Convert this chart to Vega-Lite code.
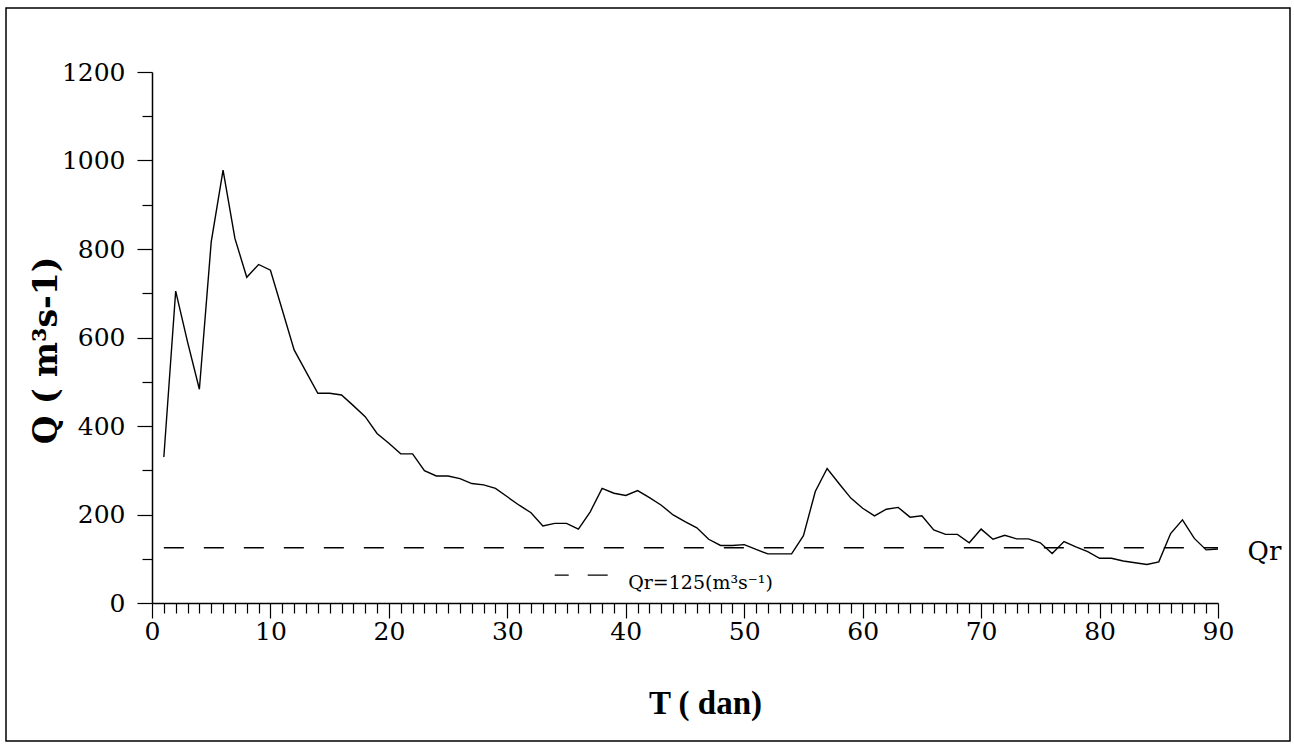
{
  "$schema": "https://vega.github.io/schema/vega-lite/v6.json",
  "autosize": {"type": "none"},
  "padding": {"left": 6, "top": 8, "right": 4, "bottom": 5},
  "width": 1284,
  "height": 733,
  "background": "white",
  "config": {
    "view": {"stroke": "black", "strokeWidth": 1.5},
    "axis": {"grid": false, "domainColor": "black", "tickColor": "black", "labelColor": "black", "titleColor": "black", "domainWidth": 1.5, "tickWidth": 1.2, "labelFlush": false}
  },
  "datasets": {
    "flow": [
      {"day": 1, "Q": 330}, {"day": 2, "Q": 705}, {"day": 3, "Q": 590}, {"day": 4, "Q": 483}, {"day": 5, "Q": 816},
      {"day": 6, "Q": 978}, {"day": 7, "Q": 824}, {"day": 8, "Q": 736}, {"day": 9, "Q": 765}, {"day": 10, "Q": 752},
      {"day": 11, "Q": 662}, {"day": 12, "Q": 572}, {"day": 13, "Q": 523}, {"day": 14, "Q": 474}, {"day": 15, "Q": 474},
      {"day": 16, "Q": 470}, {"day": 17, "Q": 446}, {"day": 18, "Q": 421}, {"day": 19, "Q": 383}, {"day": 20, "Q": 361},
      {"day": 21, "Q": 337}, {"day": 22, "Q": 337}, {"day": 23, "Q": 299}, {"day": 24, "Q": 287}, {"day": 25, "Q": 287},
      {"day": 26, "Q": 281}, {"day": 27, "Q": 270}, {"day": 28, "Q": 267}, {"day": 29, "Q": 259}, {"day": 30, "Q": 240},
      {"day": 31, "Q": 221}, {"day": 32, "Q": 204}, {"day": 33, "Q": 174}, {"day": 34, "Q": 180}, {"day": 35, "Q": 180},
      {"day": 36, "Q": 167}, {"day": 37, "Q": 206}, {"day": 38, "Q": 259}, {"day": 39, "Q": 248}, {"day": 40, "Q": 243},
      {"day": 41, "Q": 254}, {"day": 42, "Q": 238}, {"day": 43, "Q": 221}, {"day": 44, "Q": 199}, {"day": 45, "Q": 184},
      {"day": 46, "Q": 170}, {"day": 47, "Q": 144}, {"day": 48, "Q": 130}, {"day": 49, "Q": 130}, {"day": 50, "Q": 132},
      {"day": 51, "Q": 121}, {"day": 52, "Q": 111}, {"day": 53, "Q": 111}, {"day": 54, "Q": 111}, {"day": 55, "Q": 152},
      {"day": 56, "Q": 252}, {"day": 57, "Q": 304}, {"day": 58, "Q": 270}, {"day": 59, "Q": 237}, {"day": 60, "Q": 214},
      {"day": 61, "Q": 197}, {"day": 62, "Q": 212}, {"day": 63, "Q": 216}, {"day": 64, "Q": 194}, {"day": 65, "Q": 197},
      {"day": 66, "Q": 165}, {"day": 67, "Q": 155}, {"day": 68, "Q": 155}, {"day": 69, "Q": 136}, {"day": 70, "Q": 167},
      {"day": 71, "Q": 144}, {"day": 72, "Q": 153}, {"day": 73, "Q": 145}, {"day": 74, "Q": 145}, {"day": 75, "Q": 136},
      {"day": 76, "Q": 112}, {"day": 77, "Q": 139}, {"day": 78, "Q": 127}, {"day": 79, "Q": 116}, {"day": 80, "Q": 101},
      {"day": 81, "Q": 101}, {"day": 82, "Q": 95}, {"day": 83, "Q": 91}, {"day": 84, "Q": 87}, {"day": 85, "Q": 93},
      {"day": 86, "Q": 157}, {"day": 87, "Q": 188}, {"day": 88, "Q": 146}, {"day": 89, "Q": 120}, {"day": 90, "Q": 122}
    ],
    "qr": [{"from": 1, "to": 90, "Q": 125}],
    "legendDash": [{"from": 34.0, "to": 38.5, "Q": 63}],
    "legendText": [{"day": 40.2, "Q": 31.6, "label": "Qr=125(m³s⁻¹)"}],
    "qrText": [{"day": 92.5, "Q": 97, "label": "Qr"}]
  },
  "resolve": {"axis": {"x": "independent", "y": "independent"}},
  "layer": [
    {
      "data": {"name": "flow"},
      "mark": {"type": "point", "opacity": 0},
      "encoding": {
        "x": {"field": "day", "type": "quantitative",
              "scale": {"domain": [0, 90], "range": [146, 1212], "nice": false, "zero": false},
              "axis": {"orient": "bottom", "offset": -138, "values": [1,2,3,4,5,6,7,8,9,11,12,13,14,15,16,17,18,19,21,22,23,24,25,26,27,28,29,31,32,33,34,35,36,37,38,39,41,42,43,44,45,46,47,48,49,51,52,53,54,55,56,57,58,59,61,62,63,64,65,66,67,68,69,71,72,73,74,75,76,77,78,79,81,82,83,84,85,86,87,88,89],
                       "labels": false, "domain": false, "tickSize": 10, "title": null}},
        "y": {"field": "Q", "type": "quantitative",
              "scale": {"domain": [0, 1200], "range": [595, 64], "nice": false, "zero": false},
              "axis": {"orient": "left", "offset": -146, "values": [100, 300, 500, 700, 900, 1100],
                       "labels": false, "domain": false, "tickSize": 10, "title": null}}
      }
    },
    {
      "data": {"name": "flow"},
      "mark": {"type": "line", "color": "black", "strokeWidth": 1.4},
      "encoding": {
        "x": {"field": "day", "type": "quantitative",
              "axis": {"orient": "bottom", "offset": -138, "values": [0,10,20,30,40,50,60,70,80,90], "format": "d",
                       "tickSize": 15, "labelFont": "DejaVu Serif", "labelFontSize": 25, "labelPadding": 1, "labelFontWeight": "normal",
                       "title": "T ( dan)", "titleFont": "Liberation Serif", "titleFontSize": 33, "titleFontWeight": "bold",
                       "titleX": 699, "titleY": 110, "titleAlign": "center", "titleBaseline": "alphabetic"}},
        "y": {"field": "Q", "type": "quantitative",
              "axis": {"orient": "left", "offset": -146, "values": [0,200,400,600,800,1000,1200], "format": "d",
                       "tickSize": 15, "labelFont": "DejaVu Serif", "labelFontSize": 25, "labelPadding": 12, "labelFontWeight": "normal",
                       "title": "Q ( m³s-1)", "titleFont": "DejaVu Serif", "titleFontSize": 33, "titleFontWeight": "bold",
                       "titleX": -96, "titleY": 342, "titleAlign": "center", "titleBaseline": "alphabetic", "titleAngle": -90}}
      }
    },
    {
      "data": {"name": "qr"},
      "mark": {"type": "rule", "color": "black", "strokeWidth": 1.4, "strokeDash": [20, 20]},
      "encoding": {
        "x": {"field": "from", "type": "quantitative", "axis": null},
        "x2": {"field": "to"},
        "y": {"field": "Q", "type": "quantitative", "axis": null}
      }
    },
    {
      "data": {"name": "legendDash"},
      "mark": {"type": "rule", "color": "black", "strokeWidth": 1.4, "strokeDash": [14, 19, 20, 100]},
      "encoding": {
        "x": {"field": "from", "type": "quantitative", "axis": null},
        "x2": {"field": "to"},
        "y": {"field": "Q", "type": "quantitative", "axis": null}
      }
    },
    {
      "data": {"name": "legendText"},
      "mark": {"type": "text", "font": "DejaVu Serif", "fontSize": 19, "align": "left", "baseline": "alphabetic", "color": "black"},
      "encoding": {
        "x": {"field": "day", "type": "quantitative", "axis": null},
        "y": {"field": "Q", "type": "quantitative", "axis": null},
        "text": {"field": "label"}
      }
    },
    {
      "data": {"name": "qrText"},
      "mark": {"type": "text", "font": "DejaVu Serif", "fontSize": 26, "align": "left", "baseline": "alphabetic", "color": "black"},
      "encoding": {
        "x": {"field": "day", "type": "quantitative", "axis": null},
        "y": {"field": "Q", "type": "quantitative", "axis": null},
        "text": {"field": "label"}
      }
    }
  ]
}
